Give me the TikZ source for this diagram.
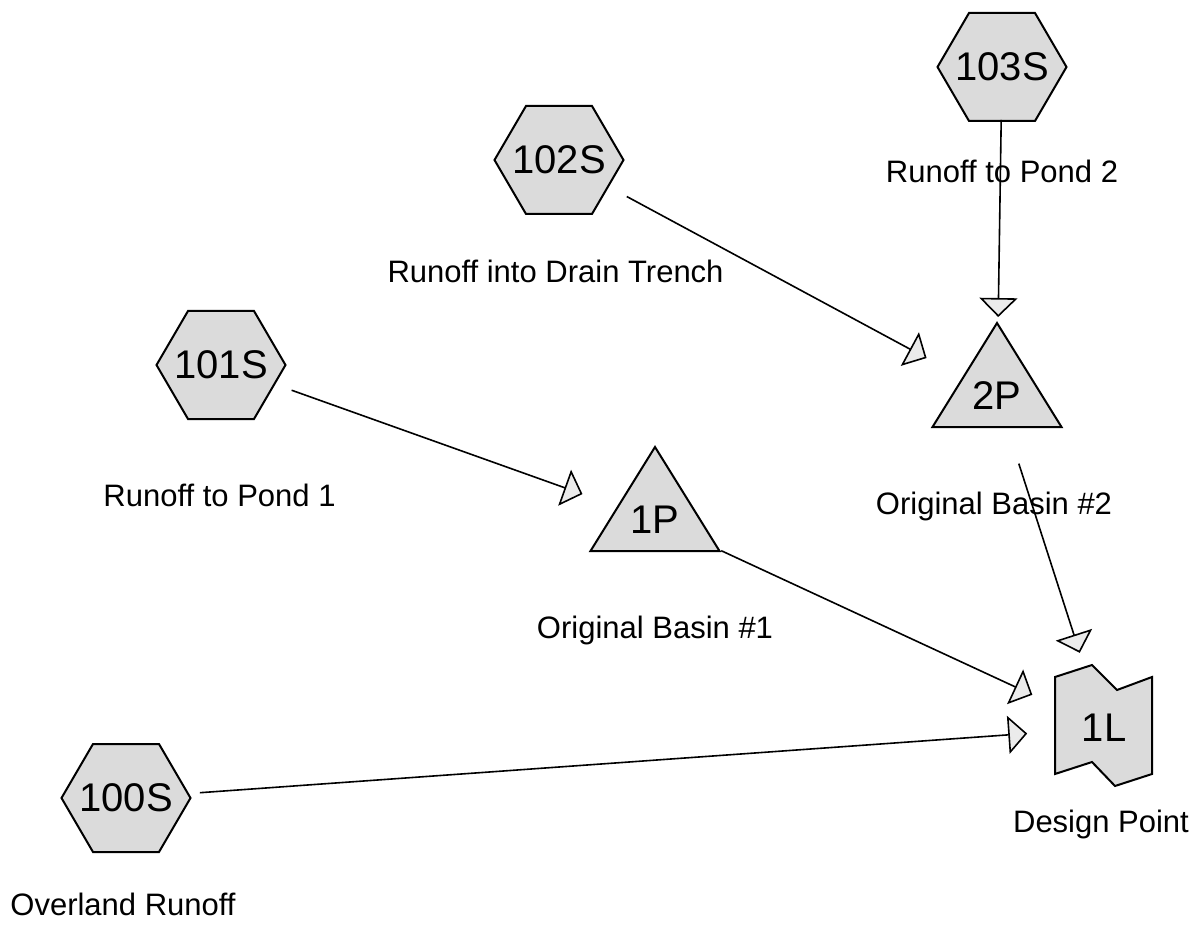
\documentclass[tikz,border=0pt]{standalone}
\usepackage{fontspec}
\setmainfont{Liberation Sans}
\usetikzlibrary{arrows.meta}
\tikzset{
  shapelbl/.style={font=\fontsize{40}{40}\selectfont, inner sep=0pt},
  lbl/.style={font=\fontsize{31}{31}\selectfont, inner sep=0pt, anchor=base},
  shp/.style={draw, line width=2pt, fill=black!14, line join=miter},
  flow/.style={draw, line width=1.6pt, -{Triangle[length=19pt,width=38pt,fill=black!8,line join=miter]}},
  hexshape/.pic={\draw[shp] (-64.5,0) -- (-33,-54) -- (33,-54) -- (64.5,0) -- (33,54) -- (-33,54) -- cycle;},
  trishape/.pic={\draw[shp] (0,-73) -- (64.5,31) -- (-64.5,31) -- cycle;},
  linkshape/.pic={\draw[shp] (-49,-51) -- (-12,-63) -- (13,-38) -- (48,-51) -- (48,46) -- (11,58) -- (-12,34) -- (-49,46) -- cycle;}
}
\begin{document}
\begin{tikzpicture}[x=1pt,y=-1pt]
\useasboundingbox (0,0) rectangle (1202,925);
\fill[white] (0,0) rectangle (1202,925);

% shapes
\pic at (1002,67) {hexshape};
\pic at (559,160) {hexshape};
\pic at (221,365) {hexshape};
\pic at (126,798) {hexshape};
\pic at (997,396) {trishape};
\pic at (655,520) {trishape};
\pic at (1104,728) {linkshape};

% shape labels
\node[shapelbl] (s103) at (1002,67) {103S};
\node[shapelbl] (s102) at (559,160) {102S};
\node[shapelbl] (s101) at (221,365) {101S};
\node[shapelbl] (s100) at (126,798) {100S};
\node[shapelbl] (p2) at (997,396) {2P};
\node[shapelbl] (p1) at (655,520) {1P};
\node[shapelbl] (l1) at (1104,728) {1L};

% text labels
\node[lbl] (t103) at (1002,183) {Runoff to Pond 2};
\node[lbl] (t102) at (555.5,283) {Runoff into Drain Trench};
\node[lbl] (t101) at (219.5,506) {Runoff to Pond 1};
\node[lbl] (t100) at (123,915) {Overland Runoff};
\node[lbl] (tp2) at (994,514) {Original Basin \#2};
\node[lbl] (tp1) at (655,638) {Original Basin \#1};
\node[lbl] (tl1) at (1101,832) {Design Point};

% connectors
\draw[flow, shorten <=53pt, shorten >=79pt] (s103.center) -- (p2.center);
\draw[flow, shorten <=77pt, shorten >=80pt] (s102.center) -- (p2.center);
\draw[flow, shorten <=75pt, shorten >=77pt] (s101.center) -- (p1.center);
\draw[flow, shorten <=73pt, shorten >=79pt] (p1.center) -- (l1.center);
\draw[flow, shorten <=74pt, shorten >=77pt] (s100.center) -- (l1.center);
\draw[flow, shorten <=71pt, shorten >=79pt] (p2.center) -- (l1.center);
\end{tikzpicture}
\end{document}
